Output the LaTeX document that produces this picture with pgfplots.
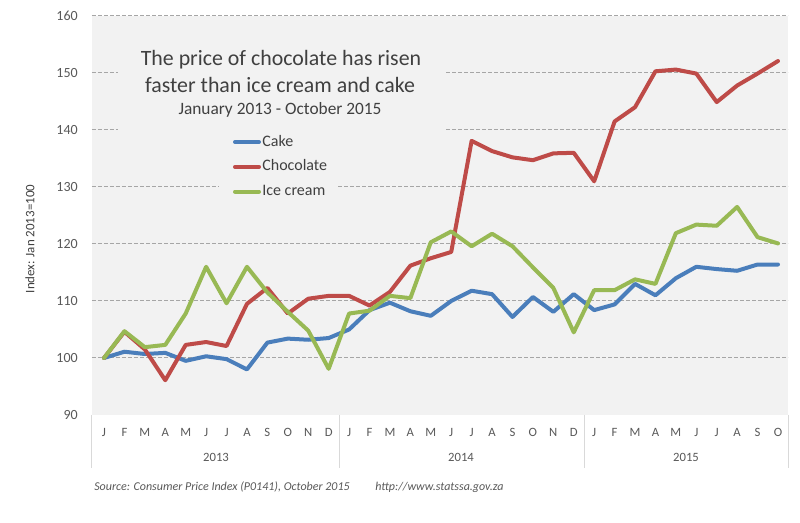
\documentclass[border=0pt]{standalone}
\usepackage{pgfplots}
\pgfplotsset{compat=1.18}
\usepackage{fontspec}
\setmainfont{Carlito}
\definecolor{cake}{HTML}{4A7EBB}
\definecolor{choc}{HTML}{BE4B48}
\definecolor{ice}{HTML}{98B954}
\definecolor{plotbg}{HTML}{F2F2F2}
\definecolor{gridc}{HTML}{A6A6A6}
\definecolor{txt}{HTML}{404040}
\definecolor{tick}{HTML}{595959}
\definecolor{sep}{HTML}{D9D9D9}

\begin{document}
\begin{tikzpicture}
\useasboundingbox (-69pt,-81pt) rectangle (531pt,311.25pt);
\fill[white] (-69pt,-81pt) rectangle (531pt,311.25pt);
\begin{axis}[
  at={(0pt,0pt)}, anchor=south west,
  scale only axis, width=522pt, height=299.25pt,
  xmin=-0.588, xmax=33.49, ymin=90, ymax=160,
  axis background/.style={fill=plotbg},
  axis line style={draw=none},
  major tick length=0pt,
  ytick={100,110,...,160},
  extra y ticks={90}, extra y tick style={grid=none},
  ymajorgrids,
  grid style={gridc, line width=0.75pt, dash pattern=on 3pt off 1.5pt},
  xtick={0,...,33},
  xticklabels={J,F,M,A,M,J,J,A,S,O,N,D,J,F,M,A,M,J,J,A,S,O,N,D,J,F,M,A,M,J,J,A,S,O},
  /pgf/number format/assume math mode=true,
  yticklabel style={font=\fontsize{10.5}{12}\selectfont, text=tick, anchor=east, inner sep=0pt, xshift=-10.5pt},
  xticklabel style={font=\fontsize{9.5}{11}\selectfont, text=tick, anchor=center, inner sep=0pt, yshift=-12.75pt},
  ylabel={Index: Jan 2013=100},
  every axis y label/.style={at={(axis description cs:-0.0891,0.441)}, rotate=90, anchor=center, font=\fontsize{9.7}{11}\selectfont, text=txt},
  legend style={at={(axis description cs:0.2026,0.7025)}, anchor=north west, draw=none, fill=none, inner sep=0pt, outer sep=0pt,
    row sep=7.6pt, column sep=1pt,
    nodes={inner sep=0pt, text height=8.5pt, text depth=2.5pt, font=\fontsize{12}{14}\selectfont, text=txt}},
  legend cell align=left,
  legend image code/.code={\draw[#1] (0pt,0pt) -- (18pt,0pt);},
  every axis plot/.append style={line width=3pt, line join=round, line cap=round},
]
\fill[plotbg] (axis cs:0.685,157.54) rectangle (axis cs:16.70,139.3);
\fill[plotbg] (axis cs:5.63,139.3) rectangle (axis cs:11.41,127.7);
\addplot[cake] coordinates {
(0,100) (1,101.1) (2,100.7) (3,100.9) (4,99.5) (5,100.3) (6,99.8) (7,98.0) (8,102.7) (9,103.4) (10,103.2) (11,103.5)
(12,105.0) (13,108.4) (14,109.7) (15,108.2) (16,107.4) (17,110.0) (18,111.8) (19,111.2) (20,107.2) (21,110.7) (22,108.1) (23,111.2)
(24,108.4) (25,109.4) (26,113.0) (27,111.0) (28,114.0) (29,116.0) (30,115.6) (31,115.3) (32,116.4) (33,116.4)};
\addlegendentry{Cake}
\addplot[choc] coordinates {
(0,100) (1,104.6) (2,101.5) (3,96.1) (4,102.3) (5,102.8) (6,102.1) (7,109.5) (8,112.3) (9,107.8) (10,110.4) (11,110.9)
(12,110.9) (13,109.2) (14,111.6) (15,116.2) (16,117.5) (17,118.6) (18,138.1) (19,136.3) (20,135.2) (21,134.7) (22,135.9) (23,136.0)
(24,131.0) (25,141.5) (26,144.0) (27,150.3) (28,150.6) (29,149.9) (30,144.9) (31,147.8) (32,149.9) (33,152.1)};
\addlegendentry{Chocolate}
\addplot[ice] coordinates {
(0,100) (1,104.7) (2,101.9) (3,102.3) (4,107.8) (5,116.0) (6,109.6) (7,116.0) (8,111.5) (9,108.1) (10,104.8) (11,98.1)
(12,107.8) (13,108.3) (14,110.9) (15,110.5) (16,120.3) (17,122.2) (18,119.6) (19,121.8) (20,119.6) (21,115.9) (22,112.3) (23,104.5)
(24,111.9) (25,111.9) (26,113.8) (27,113.0) (28,121.9) (29,123.4) (30,123.2) (31,126.5) (32,121.2) (33,120.1)};
\addlegendentry{Ice cream}
\end{axis}
\begin{scope}[x=0.75pt,y=-0.75pt,shift={(-69pt,311.25pt)}]
  \foreach \sx in {92,339,584,788} {\draw[sep, line width=0.75pt] (\sx,415) -- (\sx,468);}
  \node[font=\fontsize{9.5}{11}\selectfont, text=tick] at (216,457) {2013};
  \node[font=\fontsize{9.5}{11}\selectfont, text=tick] at (461,457) {2014};
  \node[font=\fontsize{9.5}{11}\selectfont, text=tick] at (686,457) {2015};
  \node[font=\fontsize{16.4}{20}\selectfont, text=txt, anchor=base, inner sep=0pt] at (281,66) {The price of chocolate has risen};
  \node[font=\fontsize{16.4}{20}\selectfont, text=txt, anchor=base, inner sep=0pt] at (280,92.3) {faster than ice cream and cake};
  \node[font=\fontsize{13}{15}\selectfont, text=txt, anchor=base, inner sep=0pt] at (280,114.3) {January 2013 - October 2015};
  \node[font=\fontsize{9}{11}\selectfont\itshape, text=tick, anchor=west, inner sep=0pt] at (94,487) {Source: Consumer Price Index (P0141), October 2015};
  \node[font=\fontsize{9}{11}\selectfont\itshape, text=tick, anchor=west, inner sep=0pt] at (375,487) {http://www.statssa.gov.za};
\end{scope}
\end{tikzpicture}
\end{document}
